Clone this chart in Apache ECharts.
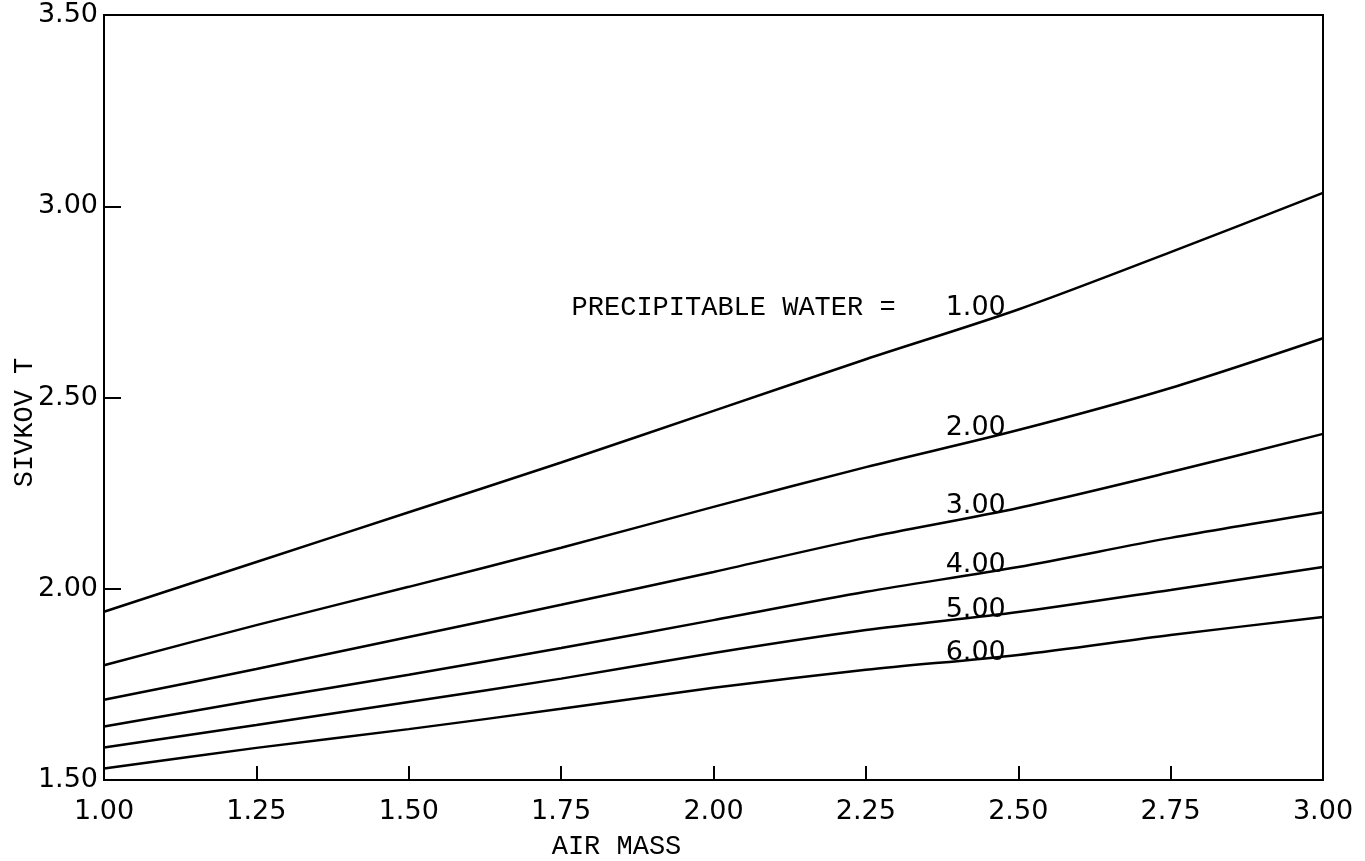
<!DOCTYPE html>
<html>
<head>
<meta charset="utf-8">
<script src="https://cdn.jsdelivr.net/npm/echarts@6/dist/echarts.min.js"></script>
<style>
  html, body { margin: 0; padding: 0; background: #fff; }
  #chart { width: 1365px; height: 861px; }
</style>
</head>
<body>
<div id="chart"></div>
<script>
// air mass along x
const airMass = [1.00, 1.25, 1.50, 1.75, 2.00, 2.25, 2.50, 2.75, 3.00]

// Sivkov T for each precipitable water curve
const pw100 = [1.94, 2.07, 2.20, 2.33, 2.465, 2.60, 2.73, 2.88, 3.035]
const pw200 = [1.80, 1.905, 2.005, 2.107, 2.214, 2.318, 2.415, 2.525, 2.655]
const pw300 = [1.71, 1.79, 1.874, 1.958, 2.044, 2.133, 2.211, 2.305, 2.405]
const pw400 = [1.64, 1.709, 1.775, 1.845, 1.918, 1.992, 2.057, 2.133, 2.20]
const pw500 = [1.585, 1.644, 1.704, 1.765, 1.832, 1.892, 1.939, 1.997, 2.057]
const pw600 = [1.53, 1.584, 1.633, 1.686, 1.741, 1.788, 1.827, 1.879, 1.926]

const curveNames = ['1.00', '2.00', '3.00', '4.00', '5.00', '6.00']
const curves = [pw100, pw200, pw300, pw400, pw500, pw600]
const labelAt = 2.50

const digitFont = 'DejaVu Sans'
const typeFont = 'Liberation Mono'

const chart = echarts.init(document.getElementById('chart'))

const series = curves.map((vals, i) => ({
  name: curveNames[i],
  type: 'line',
  symbol: 'circle',
  symbolSize: 1,
  showSymbol: true,
  smooth: 0.3,
  lineStyle: { color: '#000', width: 2.5 },
  itemStyle: { color: '#000' },
  data: airMass.map((x, j) => {
    if (x !== labelAt) return [x, vals[j]]
    return {
      value: [x, vals[j]],
      label: {
        show: true,
        position: 'left',
        distance: 12,
        offset: [0, -2],
        color: '#000',
        fontFamily: digitFont,
        fontSize: 27,
        formatter: i === 0
          ? '{t|PRECIPITABLE WATER =}{n|' + curveNames[i] + '}'
          : curveNames[i],
        rich: {
          t: { fontFamily: typeFont, fontSize: 27, color: '#000' },
          n: { fontFamily: digitFont, fontSize: 27, color: '#000', padding: [0, 0, 0, 50] }
        }
      }
    }
  })
}))

chart.setOption({
  backgroundColor: '#fff',
  animation: false,
  grid: {
    left: 104,
    right: 42,
    top: 15,
    bottom: 81,
    show: true,
    borderColor: '#000',
    borderWidth: 2,
    outerBoundsMode: 'none'
  },
  xAxis: {
    type: 'value',
    min: 1,
    max: 3,
    interval: 0.25,
    name: 'AIR MASS',
    nameLocation: 'middle',
    nameGap: 53,
    nameTextStyle: {
      fontFamily: typeFont,
      fontSize: 27,
      color: '#000',
      padding: [0, 194, 0, 0]
    },
    axisLine: { lineStyle: { color: '#000', width: 2 } },
    axisTick: { inside: true, length: 14, lineStyle: { color: '#000', width: 2 } },
    splitLine: { show: false },
    axisLabel: {
      margin: 18,
      color: '#000',
      fontFamily: digitFont,
      fontSize: 27,
      formatter: v => v.toFixed(2)
    }
  },
  yAxis: {
    type: 'value',
    min: 1.5,
    max: 3.5,
    interval: 0.5,
    name: 'SIVKOV T',
    nameLocation: 'middle',
    nameGap: 66,
    nameMoveOverlap: false,
    nameRotate: 90,
    nameTextStyle: {
      fontFamily: typeFont,
      fontSize: 27,
      color: '#000',
      padding: [0, 50, 0, 0]
    },
    axisLine: { lineStyle: { color: '#000', width: 2 } },
    axisTick: { inside: true, length: 17, lineStyle: { color: '#000', width: 2 } },
    splitLine: { show: false },
    axisLabel: {
      margin: 6,
      color: '#000',
      fontFamily: digitFont,
      fontSize: 27,
      formatter: v => v.toFixed(2)
    }
  },
  series: series
})
</script>
</body>
</html>
